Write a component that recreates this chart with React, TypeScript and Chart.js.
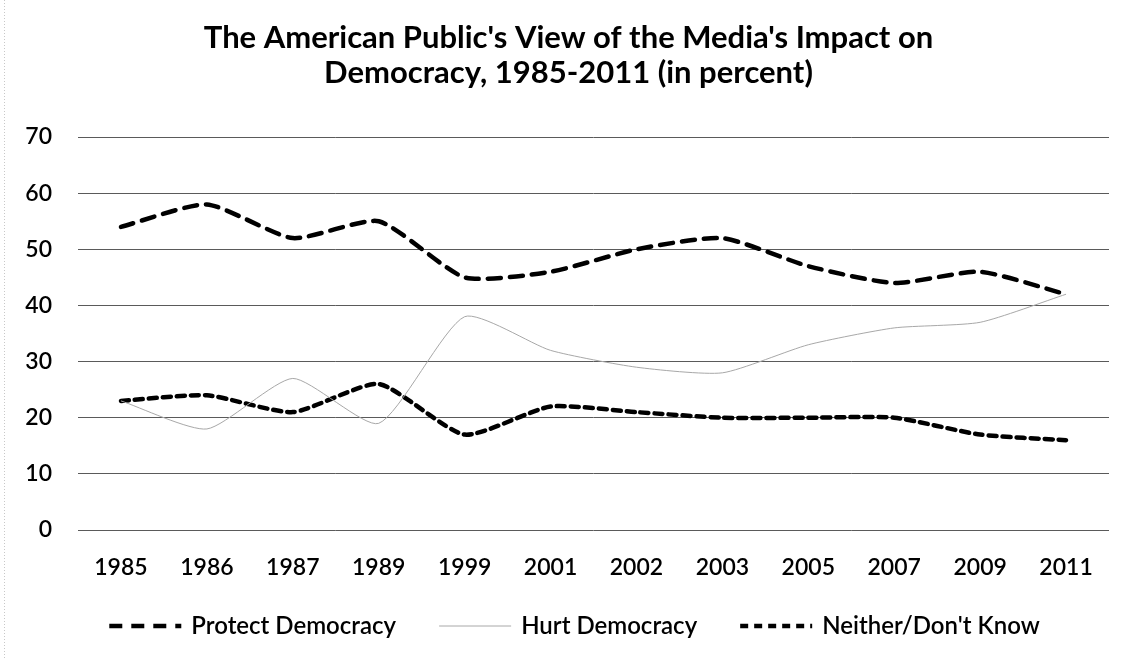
import React, { useEffect, useRef } from "react";
import { Chart, registerables } from "chart.js";

Chart.register(...registerables);

const years = ["1985", "1986", "1987", "1989", "1999", "2001", "2002", "2003", "2005", "2007", "2009", "2011"];
const protectDemocracy = [54, 58, 52, 55, 45, 46, 50, 52, 47, 44, 46, 42];
const hurtDemocracy = [23, 18, 27, 19, 38, 32, 29, 28, 33, 36, 37, 42];
const neitherDontKnow = [23, 24, 21, 26, 17, 22, 21, 20, 20, 20, 17, 16];
const titleLines = ["The American Public's View of the Media's Impact on", "Democracy, 1985-2011 (in percent)"];

const FONT = "Lato, 'Open Sans', sans-serif";

const borderPlugin = {
  id: "outerBorder",
  beforeDraw(chart: any) {
    const ctx = chart.ctx;
    ctx.save();
    ctx.fillStyle = "#ffffff";
    ctx.fillRect(0, 0, chart.width, chart.height);
    ctx.strokeStyle = "#c8c8c8";
    ctx.lineWidth = 1;
    ctx.setLineDash([1, 2]);
    ctx.beginPath();
    ctx.moveTo(4.5, 0);
    ctx.lineTo(4.5, chart.height);
    ctx.stroke();
    ctx.restore();
  },
  afterLayout(chart: any) {
    const tb = chart.titleBlock;
    if (tb) {
      tb.left += 10;
      tb.right += 10;
    }
  },
};

// Bottom legend drawn from the datasets (labels, colours, dash patterns)
const bottomLegend = {
  id: "bottomLegend",
  afterDraw(chart: any) {
    const ctx = chart.ctx;
    const sampleW = 72;
    const textGap = 10;
    const itemGap = 43;
    ctx.save();
    ctx.font = `600 24px ${FONT}`;
    const items = chart.data.datasets.map((ds: any) => ({
      ds,
      w: ctx.measureText(ds.label).width,
    }));
    const total =
      items.reduce((s: number, it: any) => s + sampleW + textGap + it.w, 0) + itemGap * (items.length - 1);
    let x = chart.width / 2 + 7 - total / 2;
    const y = 626;
    items.forEach((it: any) => {
      ctx.beginPath();
      ctx.setLineDash(it.ds.borderDash || []);
      ctx.lineWidth = it.ds.borderWidth;
      ctx.strokeStyle = it.ds.borderColor;
      ctx.lineCap = "butt";
      ctx.moveTo(x, y);
      ctx.lineTo(x + sampleW, y);
      ctx.stroke();
      ctx.setLineDash([]);
      ctx.fillStyle = "#000000";
      ctx.textBaseline = "middle";
      ctx.textAlign = "left";
      ctx.fillText(it.ds.label, x + sampleW + textGap, y);
      x += sampleW + textGap + it.w + itemGap;
    });
    ctx.restore();
  },
};

export default function App() {
  const ref = useRef<HTMLCanvasElement | null>(null);
  useEffect(() => {
    if (!ref.current) return;
    const chart = new Chart(ref.current, {
      type: "line",
      data: {
        labels: years,
        datasets: [
          {
            label: "Protect Democracy",
            data: protectDemocracy,
            borderColor: "#000000",
            backgroundColor: "#000000",
            borderWidth: 4.5,
            borderDash: [13, 9],
            borderCapStyle: "round",
            pointRadius: 0,
            tension: 0.2,
          },
          {
            label: "Hurt Democracy",
            data: hurtDemocracy,
            borderColor: "#a8a8a8",
            backgroundColor: "#a8a8a8",
            borderWidth: 1,
            pointRadius: 0,
            tension: 0.2,
          },
          {
            label: "Neither/Don't Know",
            data: neitherDontKnow,
            borderColor: "#000000",
            backgroundColor: "#000000",
            borderWidth: 4.5,
            borderDash: [8, 6],
            borderCapStyle: "round",
            pointRadius: 0,
            tension: 0.2,
          },
        ],
      },
      options: {
        animation: false,
        responsive: true,
        maintainAspectRatio: false,
        layout: { padding: { top: 20, left: 8, right: 26, bottom: 0 } },
        plugins: {
          title: {
            display: true,
            text: titleLines,
            color: "#000000",
            font: { family: FONT, size: 31, weight: "bold", lineHeight: 1.13 },
            padding: { top: 0, bottom: 47 },
          },
          legend: { display: false },
          tooltip: { enabled: false },
        },
        scales: {
          x: {
            offset: true,
            grid: { display: false, drawTicks: false },
            border: { display: false },
            ticks: {
              color: "#000000",
              font: { family: FONT, size: 23, weight: 600 },
              maxRotation: 0,
              padding: 24,
            },
            afterFit: (scale: any) => {
              scale.height = 130;
            },
          },
          y: {
            min: 0,
            max: 70,
            ticks: {
              stepSize: 10,
              color: "#000000",
              font: { family: FONT, size: 23, weight: 600 },
              padding: 26,
            },
            grid: { color: "#5a5a5a", lineWidth: 1, drawTicks: false },
            border: { display: false },
            afterFit: (scale: any) => {
              scale.width = 70;
            },
          },
        },
      },
      plugins: [borderPlugin, bottomLegend],
    } as any);
    return () => chart.destroy();
  }, []);
  return (
    <div style={{ position: "fixed", left: 0, top: 0, width: 1135, height: 660, background: "#fff" }}>
      <canvas ref={ref} />
    </div>
  );
}
